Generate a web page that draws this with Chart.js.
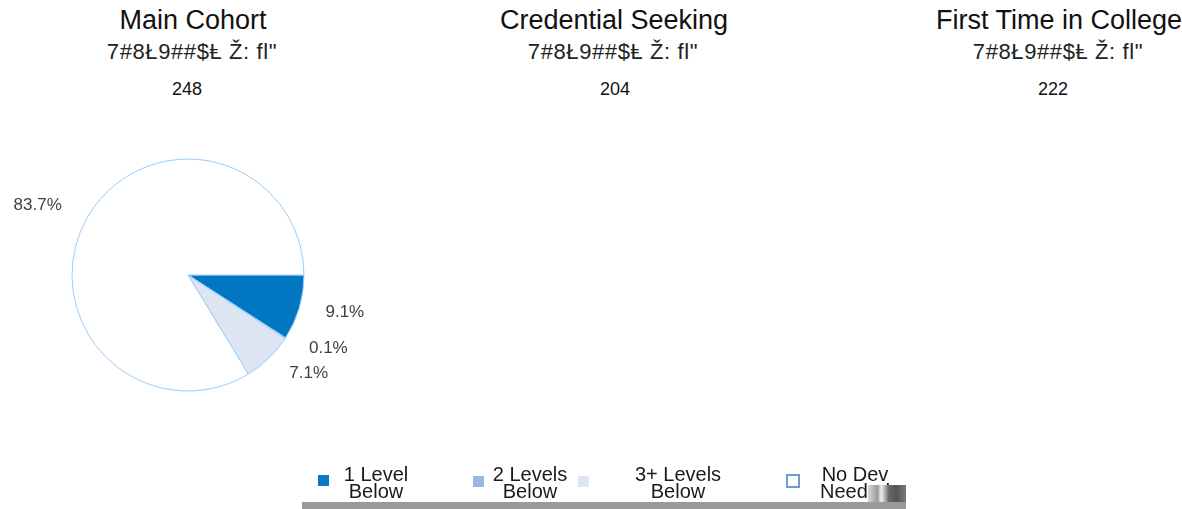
<!DOCTYPE html>
<html>
<head>
<meta charset="utf-8">
<script src="https://cdn.jsdelivr.net/npm/chart.js@4/dist/chart.umd.min.js"></script>
<style>
  html, body { margin: 0; padding: 0; background: #ffffff; }
  body { width: 1182px; height: 509px; position: relative; overflow: hidden; font-family: "Liberation Sans", Arial, sans-serif; }
  .ptitle { position: absolute; width: 360px; text-align: center; color: #111; white-space: nowrap; }
  .t1 { font-size: 27px; line-height: 30px; top: 5px; }
  .t2 { font-size: 22px; line-height: 24px; top: 40px; color: #222; letter-spacing: 0.6px; }
  .t3 { font-size: 18px; line-height: 22px; top: 78px; color: #111; }
  #pie1wrap { position: absolute; left: 0; top: 100px; width: 376px; height: 350px; }
  #legend { position: absolute; left: 0; top: 0; width: 1182px; height: 509px; pointer-events: none; }
  .lg-marker { position: absolute; box-sizing: border-box; }
  .lg-text { position: absolute; font-size: 20px; line-height: 17px; color: #1a1a1a; text-align: center; white-space: nowrap; }
  #lgbar { position: absolute; left: 302px; top: 502px; width: 604px; height: 7px; background: #9a9a9e; }
  #lgblock { position: absolute; left: 868px; top: 485px; width: 38px; height: 17px;
             background: linear-gradient(90deg, #d8d8d8 0%, #9a9a9a 25%, #f0f0f0 35%, #6a6a6a 55%, #555 75%, #7a7a7a 100%); }
</style>
</head>
<body>
<div id="panels"></div>
<div id="pie1wrap"><canvas id="pie1"></canvas></div>
<div id="legend"></div>
<script>
// ---- data ----
const categories = ['1 Level Below', '2 Levels Below', '3+ Levels Below', 'No Dev Needed'];
const legendLines = [['1 Level', 'Below'], ['2 Levels', 'Below'], ['3+ Levels', 'Below'], ['No Dev', 'Needed']];
const mainCohortValues = [9.1, 0.1, 7.1, 83.7];
const panelTitles = ['Main Cohort', 'Credential Seeking', 'First Time in College'];
const panelSubtitles = ['7#8Ł9##$Ⱡ Ž: fl"', '7#8Ł9##$Ⱡ Ž: fl"', '7#8Ł9##$Ⱡ Ž: fl"'];
const panelCounts = ['248', '204', '222'];

// ---- styles / layout ----
const sliceColors = ['#0077C0', '#9DB9DF', '#DCE6F2', '#FFFFFF'];
const sliceBorder = '#99CCFF';
const titleCenters = [193, 614, 1059];
const subtitleCenters = [192, 613, 1058];
const countCenters = [187, 615, 1053];

// panel headings
const panels = document.getElementById('panels');
panelTitles.forEach((t, i) => {
  [['t1', t, titleCenters[i]], ['t2', panelSubtitles[i], subtitleCenters[i]], ['t3', panelCounts[i], countCenters[i]]].forEach(([cls, txt, cx]) => {
    const d = document.createElement('div');
    d.className = 'ptitle ' + cls;
    d.style.left = (cx - 180) + 'px';
    d.textContent = txt;
    panels.appendChild(d);
  });
});

// outside percentage labels
const labelNudgeDeg = [-3.3, -5.6, -7.0, -4.2];
const labelDist = [161, 158, 155, 166];
const outsideLabels = {
  id: 'outsideLabels',
  afterDatasetsDraw(chart) {
    const ctx = chart.ctx;
    const meta = chart.getDatasetMeta(0);
    const vals = chart.data.datasets[0].data;
    ctx.save();
    ctx.font = '17px "Liberation Sans", Arial, sans-serif';
    ctx.fillStyle = '#404040';
    ctx.textAlign = 'center';
    ctx.textBaseline = 'middle';
    meta.data.forEach((arc, i) => {
      const mid = (arc.startAngle + arc.endAngle) / 2 + labelNudgeDeg[i] * Math.PI / 180;
      const x = arc.x + labelDist[i] * Math.cos(mid);
      const y = arc.y + labelDist[i] * Math.sin(mid);
      ctx.fillText(vals[i].toFixed(1) + '%', x, y + 1);
    });
    ctx.restore();
  }
};

const chart = new Chart(document.getElementById('pie1'), {
  type: 'pie',
  data: {
    labels: categories,
    datasets: [{
      data: mainCohortValues,
      backgroundColor: sliceColors,
      borderColor: sliceBorder,
      borderWidth: 1,
      radius: 116
    }]
  },
  options: {
    responsive: true,
    maintainAspectRatio: false,
    animation: false,
    rotation: 90,
    layout: { padding: 0 },
    plugins: { legend: { display: false }, tooltip: { enabled: false }, title: { display: false } }
  },
  plugins: [outsideLabels]
});

// HTML legend built from the categories
const legend = document.getElementById('legend');
const markerBoxes = [
  { left: 318, top: 475, size: 11, fill: '#0A78C8', border: null },
  { left: 473, top: 476, size: 11, fill: '#98B8E0', border: null },
  { left: 578, top: 476, size: 11, fill: '#DCE6F4', border: null },
  { left: 786, top: 474, size: 14, fill: '#FFFFFF', border: '#6E9BD4' }
];
const textCenters = [376, 530, 678, 855];
const bar = document.createElement('div'); bar.id = 'lgbar'; legend.appendChild(bar);
categories.forEach((c, i) => {
  const m = document.createElement('div');
  m.className = 'lg-marker';
  const b = markerBoxes[i];
  m.style.left = b.left + 'px'; m.style.top = b.top + 'px';
  m.style.width = b.size + 'px'; m.style.height = b.size + 'px';
  m.style.background = b.fill;
  if (b.border) m.style.border = '2px solid ' + b.border;
  legend.appendChild(m);
  const t = document.createElement('div');
  t.className = 'lg-text';
  t.style.left = (textCenters[i] - 60) + 'px';
  t.style.width = '120px';
  t.style.top = '466px';
  t.innerHTML = legendLines[i].join('<br>');
  legend.appendChild(t);
});
const blk = document.createElement('div'); blk.id = 'lgblock'; legend.appendChild(blk);
</script>
</body>
</html>
